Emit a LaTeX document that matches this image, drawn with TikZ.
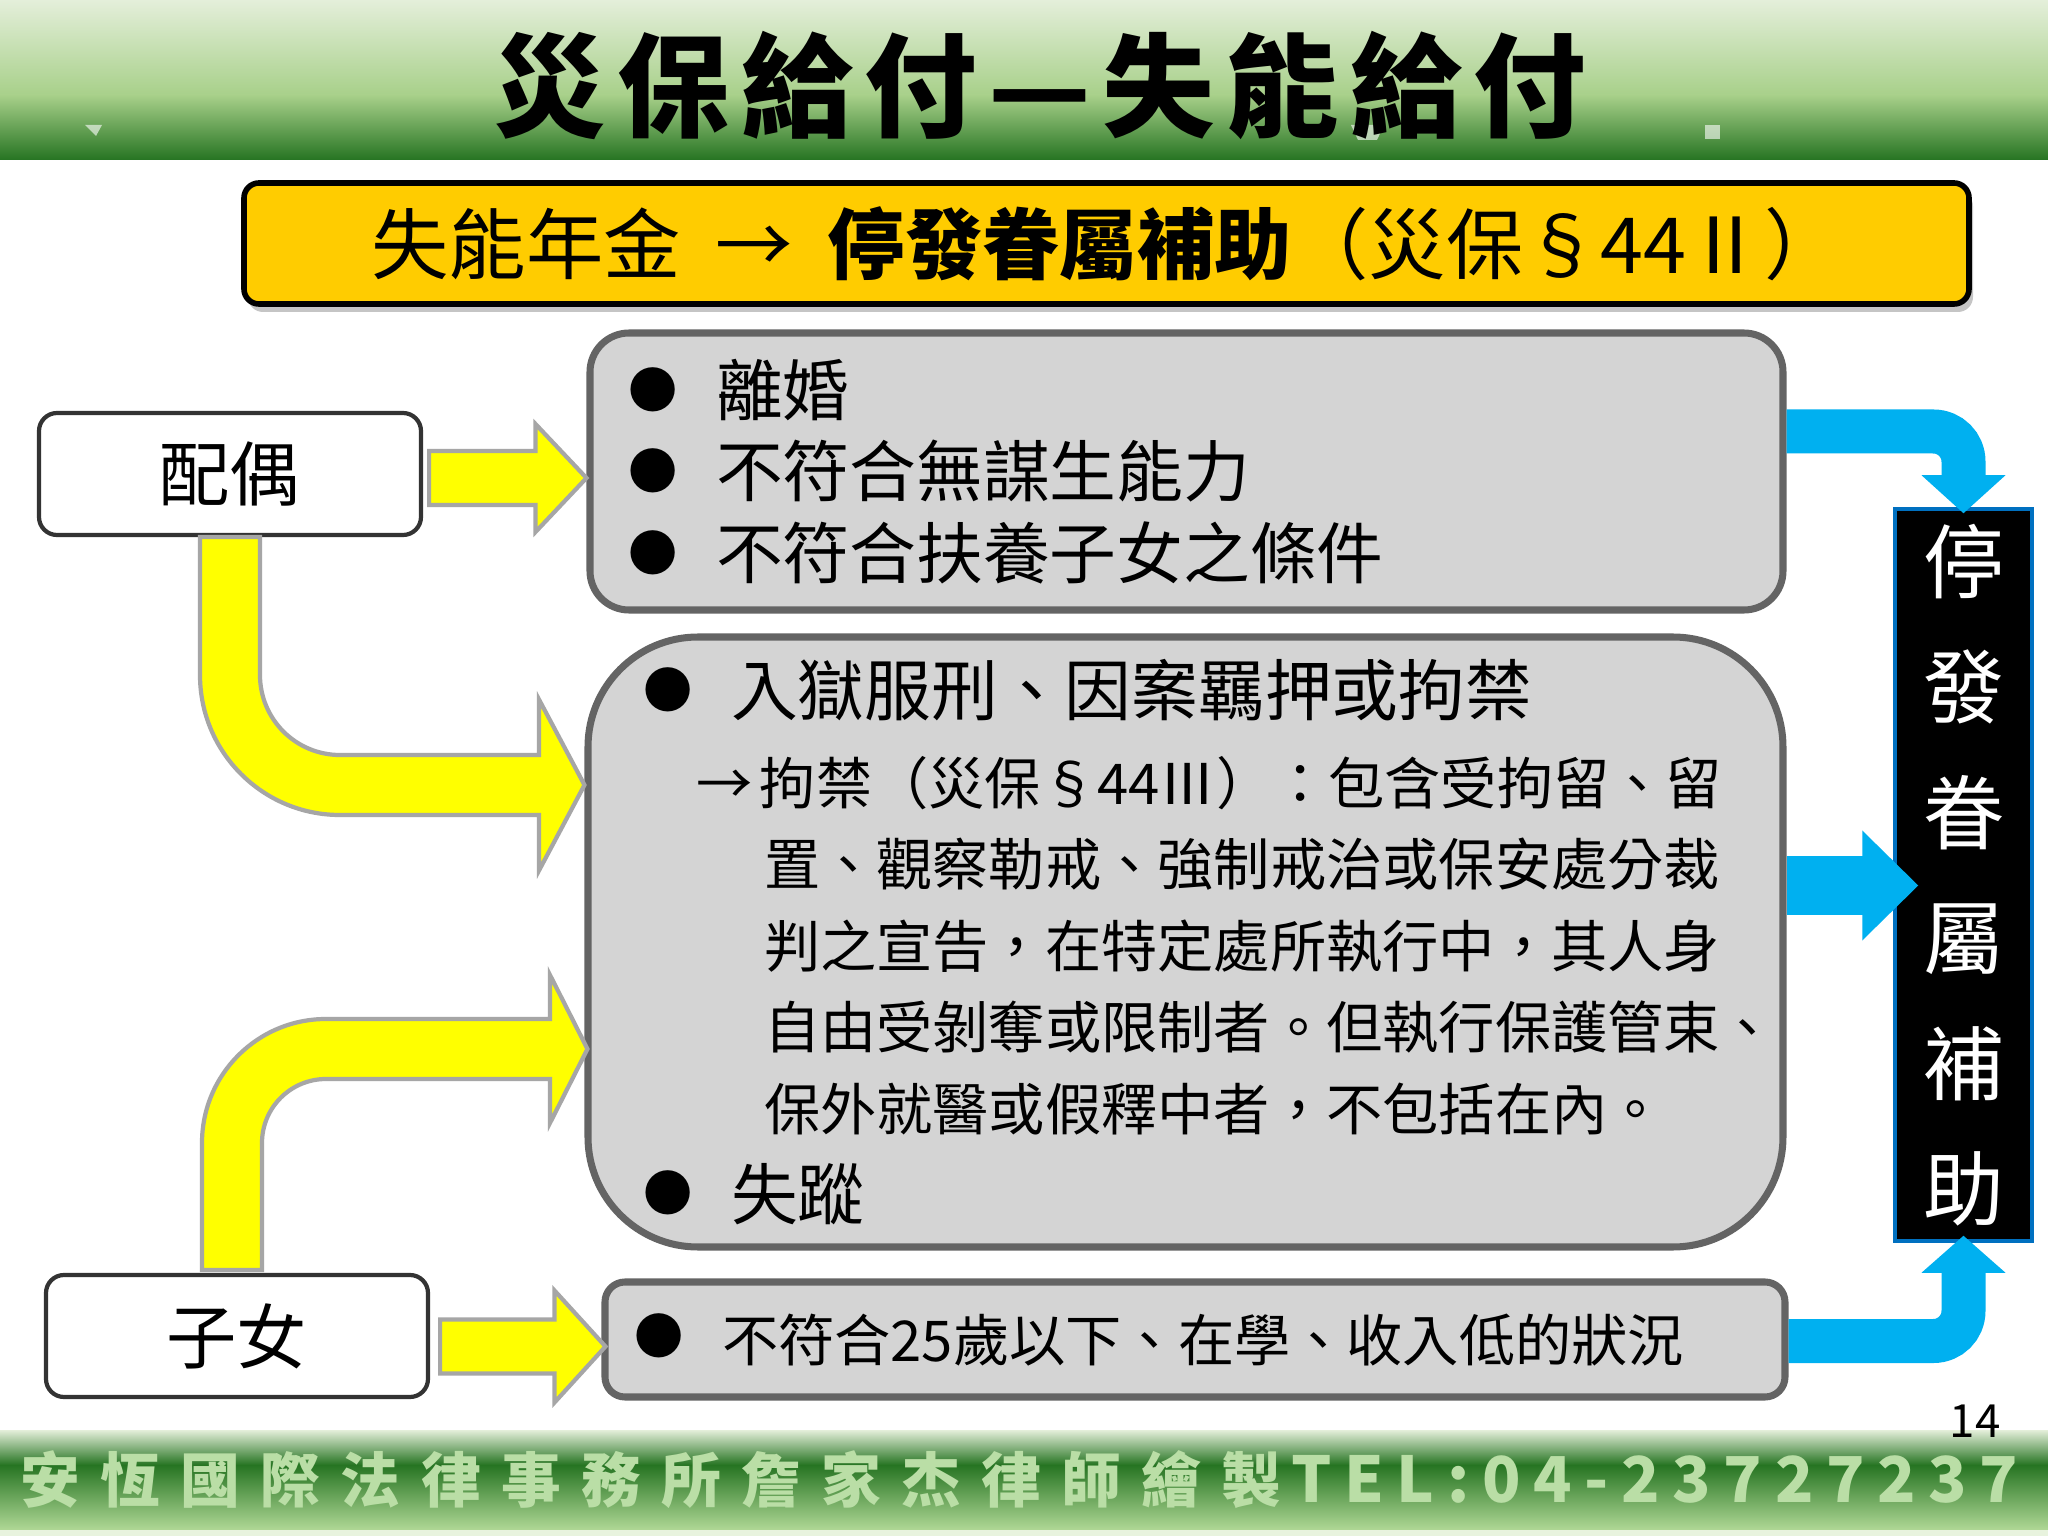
\documentclass[tikz,border=0pt]{standalone}
\usepackage{fontspec}
\setmainfont{Noto Sans CJK TC}
\newfontfamily\titlefont[LetterSpace=10]{Noto Sans CJK TC}
\newfontfamily\footcjk[LetterSpace=34]{Noto Sans CJK TC}
\newfontfamily\foottel[LetterSpace=20]{Noto Sans CJK TC}
\usetikzlibrary{calc,shadows}
\definecolor{bandlight}{RGB}{228,239,218}
\definecolor{bandmid}{RGB}{168,208,138}
\definecolor{banddark}{RGB}{38,116,34}
\definecolor{footlow}{RGB}{176,216,150}
\definecolor{footpale}{RGB}{232,243,222}
\definecolor{bannergold}{RGB}{255,204,0}
\definecolor{boxgray}{RGB}{212,212,212}
\definecolor{boxedge}{RGB}{100,100,100}
\definecolor{arrowyellow}{RGB}{255,255,0}
\definecolor{arrowedge}{RGB}{166,166,166}
\definecolor{arrowblue}{RGB}{0,176,240}
\definecolor{resultedge}{RGB}{0,112,192}
\definecolor{foottext}{RGB}{186,222,166}
\newcommand{\condbullet}{\makebox[0.88cm][l]{\raisebox{2pt}{\fontsize{14pt}{16pt}\selectfont ●}}}
\newcommand{\maintxt}{\fontsize{19pt}{23.2pt}\selectfont}
\newcommand{\subtxt}{\fontsize{16pt}{23.2pt}\selectfont}

\begin{document}
\begin{tikzpicture}[
    condbox/.style={draw=boxedge, fill=boxgray, line width=2pt, align=left, inner ysep=0pt},
    whobox/.style={draw=black!80, fill=white, line width=1.2pt, rounded corners=0.18cm,
        minimum width=3.82cm, minimum height=1.22cm, font=\fontsize{20pt}{24pt}\selectfont},
    yarrow/.style={fill=arrowyellow, draw=arrowedge, line width=1.2pt},
    barrow/.style={draw=arrowblue, line width=0.44cm, rounded corners=0.3cm}]

    \fill[white] (0,0) rectangle (20.48,-15.36);
    \useasboundingbox (0,0) rectangle (20.48,-15.36);

    % title band
    \shade[top color=bandlight, bottom color=bandmid] (0,0) rectangle (20.48,-0.95);
    \shade[top color=bandmid, bottom color=banddark] (0,-0.95) rectangle (20.48,-1.60);
    \fill[white, opacity=.6] (0.85,-1.25) -- (1.02,-1.25) -- (0.96,-1.36) -- cycle;
    \fill[white, opacity=.6] (13.51,-1.25) -- (13.84,-1.25) -- (13.77,-1.40) -- (13.58,-1.40) -- cycle;
    \fill[white, opacity=.6] (17.05,-1.25) rectangle (17.20,-1.39);
    \node[font=\titlefont\fontsize{32pt}{36pt}\selectfont\bfseries] (title) at (10.40,-0.85) {災保給付—失能給付};

    % footer band
    \shade[top color=bandlight, bottom color=banddark] (0,-14.30) rectangle (20.48,-14.65);
    \shade[top color=banddark, bottom color=footlow] (0,-14.65) rectangle (20.48,-15.30);
    \fill[footpale] (0,-15.30) rectangle (20.48,-15.36);
    \node[anchor=west, inner sep=0pt, text=foottext, font=\fontsize{17pt}{20pt}\selectfont] (footer) at (0.20,-14.80)
        {{\footcjk\bfseries 安恆國際法律事務所詹家杰律師繪製}\hspace{0.1cm}{\foottel\fontsize{18pt}{22pt}\selectfont\bfseries TEL:04-23727237}};
    \node[font=\fontsize{13pt}{15pt}\selectfont] (page) at (19.75,-14.21) {14};

    % banner
    \node[draw=black, line width=1.6pt, fill=bannergold, rounded corners=0.15cm,
        minimum width=17.25cm, minimum height=1.21cm,
        drop shadow={shadow xshift=0.04cm, shadow yshift=-0.08cm, opacity=0.45},
        font=\fontsize{22pt}{26pt}\selectfont] (banner) at (11.065,-2.435)
        {失能年金\hspace{0.45em}→\hspace{0.45em}{\bfseries 停發眷屬補助}（災保§44Ⅱ）};

    \node[whobox] (spouse) at (2.30,-4.74) {配偶};
    \node[whobox] (child) at (2.37,-13.36) {子女};

    \node[condbox, rounded corners=0.39cm, minimum width=11.93cm, minimum height=2.77cm,
        inner xsep=0.38cm, text width=11.17cm, font=\maintxt] (cond1) at (11.865,-4.715)
        {\noindent\condbullet 離婚\\
         \condbullet 不符合無謀生能力\\
         \condbullet 不符合扶養子女之條件};

    \node[condbox, rounded corners=1.1cm, minimum width=11.95cm, minimum height=6.10cm,
        inner xsep=0.55cm, text width=10.85cm, font=\maintxt] (cond2) at (11.855,-9.42)
        {\noindent\condbullet 入獄服刑、因案羈押或拘禁\\[0.07cm]
         \subtxt\hspace*{0.53cm}\makebox[0.64cm][l]{→}拘禁（災保§44Ⅲ）：包含受拘留、留\\
         \hspace*{1.21cm}置、觀察勒戒、強制戒治或保安處分裁\\
         \hspace*{1.21cm}判之宣告，在特定處所執行中，其人身\\
         \hspace*{1.21cm}自由受剝奪或限制者。但執行保護管束、\\
         \hspace*{1.21cm}保外就醫或假釋中者，不包括在內。\\[0.07cm]
         \maintxt\condbullet 失蹤};

    \node[condbox, rounded corners=0.2cm, minimum width=11.80cm, minimum height=1.15cm,
        inner xsep=0.29cm, text width=11.22cm, font=\subtxt] (cond3) at (11.95,-13.395)
        {\noindent\condbullet 不符合25歲以下、在學、收入低的狀況};

    \node[fill=black, draw=resultedge, line width=1pt, minimum width=1.37cm, minimum height=7.32cm,
        text=white, align=center, font=\fontsize{23pt}{35.7pt}\selectfont] (result) at (19.635,-8.75)
        {停\\發\\眷\\屬\\補\\助};

    % yellow arrows
    \coordinate (a1s) at ($(spouse.east)+(0.06,-0.04)$);
    \coordinate (a1t) at (cond1.west |- a1s);
    \draw[yarrow] ($(a1s)+(0,0.27)$) -- ($(a1t)+(-0.51,0.27)$) -- ($(a1t)+(-0.51,0.54)$) -- (a1t)
        -- ($(a1t)+(-0.51,-0.54)$) -- ($(a1t)+(-0.51,-0.27)$) -- ($(a1s)+(0,-0.27)$) -- cycle;

    \coordinate (a4t) at ($(cond3.west)+(0.04,-0.07)$);
    \coordinate (a4s) at ($(child.east |- a4t)+(0.10,0)$);
    \draw[yarrow] ($(a4s)+(0,0.27)$) -- ($(a4t)+(-0.51,0.27)$) -- ($(a4t)+(-0.51,0.56)$) -- (a4t)
        -- ($(a4t)+(-0.51,-0.56)$) -- ($(a4t)+(-0.51,-0.27)$) -- ($(a4s)+(0,-0.27)$) -- cycle;

    \draw[yarrow] ($(spouse.south)+(-0.30,0)$) -- (2.00,-6.75) arc[start angle=180, end angle=270, radius=1.40]
        -- (5.39,-8.15) -- (5.39,-8.705) -- (cond2.west |- 0,-7.85) -- (5.39,-6.995) -- (5.39,-7.55)
        -- (3.40,-7.55) arc[start angle=270, end angle=180, radius=0.80] -- ($(spouse.south)+(0.30,0)$) -- cycle;

    \draw[yarrow] (2.02,-12.70) -- (2.02,-11.43) arc[start angle=180, end angle=90, radius=1.24]
        -- (5.50,-10.19) -- (5.50,-9.75) -- ($(cond2.west |- 0,-10.49)+(0.03,0)$) -- (5.50,-11.23) -- (5.50,-10.79)
        -- (3.26,-10.79) arc[start angle=90, end angle=180, radius=0.64] -- (2.62,-12.70) -- cycle;

    % blue arrows
    \draw[barrow] ($(cond1.east)+(0,0.40)$) -| ($(result.north)+(0,0.30)$);
    \fill[arrowblue] ($(result.north)+(-0.42,0.32)$) -- ($(result.north)+(0.42,0.32)$) -- ($(result.north)+(0,-0.06)$) -- cycle;

    \coordinate (b2t) at ($(result.west)+(0.25,-0.105)$);
    \draw[arrowblue, line width=0.58cm] (cond2.east |- b2t) -- ($(b2t)+(-0.54,0)$);
    \fill[arrowblue] ($(b2t)+(-0.56,0.55)$) -- (b2t) -- ($(b2t)+(-0.56,-0.55)$) -- cycle;

    \draw[barrow] ($(cond3.east)+(0,-0.015)$) -| ($(result.south)+(0,-0.28)$);
    \fill[arrowblue] ($(result.south)+(-0.42,-0.30)$) -- ($(result.south)+(0.42,-0.30)$) -- ($(result.south)+(0,0.07)$) -- cycle;

\end{tikzpicture}
\end{document}
